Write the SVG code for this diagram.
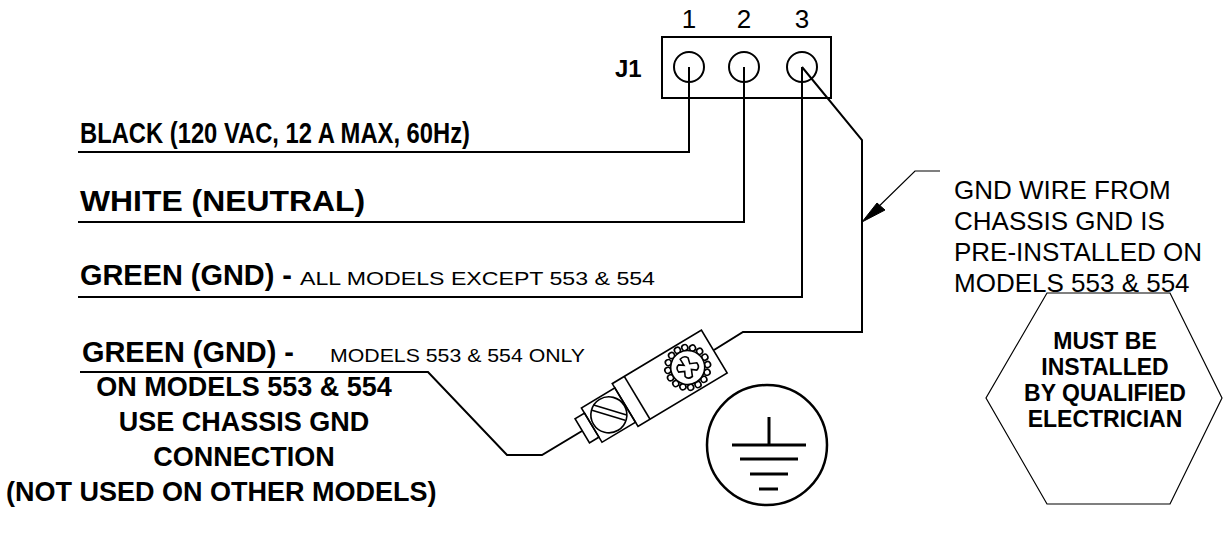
<svg xmlns="http://www.w3.org/2000/svg" width="1225" height="535" viewBox="0 0 1225 535">
<style>
.b{font-family:"Liberation Sans",Arial,sans-serif;font-weight:bold;fill:#000}
.r{font-family:"Liberation Sans",Arial,sans-serif;fill:#000}
.w{fill:none;stroke:#000;stroke-width:2;stroke-linejoin:miter}
.t{fill:none;stroke:#000;stroke-width:1.6}
.g{fill:none;stroke:#000;stroke-width:3}
</style>
<rect width="1225" height="535" fill="#fff"/>
<g id="j1">
<rect x="662" y="37" width="169" height="61" class="w"/>
<circle cx="689" cy="67" r="15" class="w"/>
<circle cx="744" cy="67" r="15" class="w"/>
<circle cx="802" cy="67" r="15" class="w"/>
<text class="r" font-size="26" x="689" y="28" text-anchor="middle">1</text>
<text class="r" font-size="26" x="744" y="28" text-anchor="middle">2</text>
<text class="r" font-size="26" x="802" y="28" text-anchor="middle">3</text>
<text class="b" font-size="24" x="615" y="77">J1</text>
</g>
<g id="labels">
<text class="b" font-size="29" x="80" y="143" textLength="390" lengthAdjust="spacingAndGlyphs">BLACK (120 VAC, 12 A MAX, 60Hz)</text>
<text class="b" font-size="29" x="80" y="211" textLength="285" lengthAdjust="spacingAndGlyphs">WHITE (NEUTRAL)</text>
<text class="b" font-size="29" x="80" y="285" textLength="212" lengthAdjust="spacingAndGlyphs">GREEN (GND) -</text>
<text class="r" font-size="19" x="300" y="285" textLength="355" lengthAdjust="spacingAndGlyphs">ALL MODELS EXCEPT 553 &amp; 554</text>
<text class="b" font-size="29" x="82" y="362" textLength="212" lengthAdjust="spacingAndGlyphs">GREEN (GND) -</text>
<text class="r" font-size="19" x="330" y="362" textLength="255" lengthAdjust="spacingAndGlyphs">MODELS 553 &amp; 554 ONLY</text>
</g>
<g id="note-chassis">
<text class="b" font-size="27" x="244" y="396" text-anchor="middle">ON MODELS 553 &amp; 554</text>
<text class="b" font-size="27" x="244" y="431" text-anchor="middle">USE CHASSIS GND</text>
<text class="b" font-size="27" x="244" y="466" text-anchor="middle">CONNECTION</text>
<text class="b" font-size="27" x="6" y="501">(NOT USED ON OTHER MODELS)</text>
</g>
<g id="note-gnd">
<text class="r" font-size="26"><tspan x="954" y="199">GND WIRE FROM</tspan><tspan x="954" y="230">CHASSIS GND IS</tspan><tspan x="954" y="261">PRE-INSTALLED ON</tspan><tspan x="954" y="292">MODELS 553 &amp; 554</tspan></text>
</g>
<g id="hexagon">
<polygon points="1047,293 1170,293 1222,398 1170,504 1047,504 986,398" fill="none" stroke="#000" stroke-width="1.2"/>
<text class="b" font-size="23" text-anchor="middle"><tspan x="1105" y="349">MUST BE</tspan><tspan x="1105" y="375">INSTALLED</tspan><tspan x="1105" y="401">BY QUALIFIED</tspan><tspan x="1105" y="427">ELECTRICIAN</tspan></text>
</g>
<g id="ground-symbol">
<circle cx="767" cy="445" r="60" fill="none" stroke="#000" stroke-width="2.5"/>
<line x1="769" y1="417" x2="769" y2="445" class="g"/>
<line x1="732" y1="445" x2="806" y2="445" class="g"/>
<line x1="740" y1="459" x2="798" y2="459" class="g"/>
<line x1="750" y1="474" x2="788" y2="474" class="g"/>
<line x1="759" y1="489" x2="778" y2="489" class="g"/>
</g>
<g id="chassis-connector" transform="translate(542,455) rotate(-31)">
<rect x="47" y="-14" width="11" height="28" class="t" fill="#fff"/>
<rect x="58" y="-20" width="39" height="40" class="t" fill="#fff"/>
<circle cx="78" cy="0" r="18" class="t"/>
<line x1="71" y1="-16" x2="84" y2="16" class="t" transform="rotate(-20 78 0)"/>
<line x1="76" y1="-18" x2="89" y2="14" class="t" transform="rotate(-20 78 0)"/>
<rect x="97" y="-25" width="104" height="50" class="t" fill="#fff"/>
<line x1="111" y1="-25" x2="111" y2="25" class="t"/>
<g class="t">
<circle cx="190" cy="0" r="3"/><circle cx="188.5" cy="7.7" r="3"/><circle cx="184.1" cy="14.1" r="3"/><circle cx="177.7" cy="18.5" r="3"/>
<circle cx="170" cy="20" r="3"/><circle cx="162.3" cy="18.5" r="3"/><circle cx="155.9" cy="14.1" r="3"/><circle cx="151.5" cy="7.7" r="3"/>
<circle cx="150" cy="0" r="3"/><circle cx="151.5" cy="-7.7" r="3"/><circle cx="155.9" cy="-14.1" r="3"/><circle cx="162.3" cy="-18.5" r="3"/>
<circle cx="170" cy="-20" r="3"/><circle cx="177.7" cy="-18.5" r="3"/><circle cx="184.1" cy="-14.1" r="3"/><circle cx="188.5" cy="-7.7" r="3"/>
</g>
<circle cx="170" cy="0" r="17" fill="#fff" stroke="#000" stroke-width="1.6"/>
<path d="M167,-3 L165,-10 Q170,-13 173,-9 L173,-3 L180,-2 Q182,3 178,5 L173,3 L172,10 Q167,12 165,8 L166,3 L160,2 Q158,-3 162,-5 Z" class="t" transform="rotate(15 170 0)"/>
</g>
<g id="connectors">
<polyline points="78,152 689,152 689,67" class="w"/>
<polyline points="78,222 744,222 744,67" class="w"/>
<polyline points="78,297 802,297 802,67" class="w"/>
<polyline points="80,372 428,372 507,455 542,455 582,431" class="w"/>
<polyline points="714,350 743,332 862,332 862,140 802,67" class="w"/>
<polyline points="940,171 915,171 870,215" fill="none" stroke="#000" stroke-width="1.2"/>
<polygon points="862,222 877,203 885,210" fill="#000" stroke="#000" stroke-width="1"/>
</g>
</svg>
